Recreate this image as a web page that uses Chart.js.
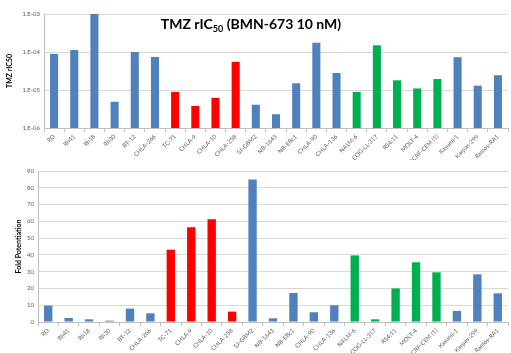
<!DOCTYPE html>
<html>
<head>
<meta charset="utf-8">
<script src="https://cdn.jsdelivr.net/npm/chart.js@4.4.0/dist/chart.umd.min.js"></script>
<style>
  html, body { margin: 0; padding: 0; background: #fff; }
  .box { position: absolute; left: 0; width: 511px; }
  #top { top: 0; height: 160px; }
  #bottom { top: 160px; height: 193px; }
</style>
</head>
<body>
<div class="box" id="top"><canvas id="ricChart"></canvas></div>
<div class="box" id="bottom"><canvas id="foldChart"></canvas></div>
<script>
const cellLines = ['RD', 'Rh41', 'Rh18', 'Rh30', 'BT-12', 'CHLA-266', 'TC-71', 'CHLA-9', 'CHLA-10', 'CHLA-258',
  'SJ-GBM2', 'NB-1643', 'NB-EBc1', 'CHLA-90', 'CHLA-136', 'NALM-6', 'COG-LL-317', 'RS4;11', 'MOLT-4',
  'CCRF-CEM (1)', 'Kasumi-1', 'Karpas-299', 'Ramos-RA1'];
const groups = ['solid', 'solid', 'solid', 'solid', 'solid', 'solid', 'ewing', 'ewing', 'ewing', 'ewing',
  'solid', 'solid', 'solid', 'solid', 'solid', 'all', 'all', 'all', 'all', 'all', 'solid', 'solid', 'solid'];
const ric50 = [8.9e-5, 1.13e-4, 1.0e-3, 4.9e-6, 1.0e-4, 7.4e-5, 8.9e-6, 3.8e-6, 6.2e-6, 5.5e-5,
  4.1e-6, 2.3e-6, 1.5e-5, 1.76e-4, 2.8e-5, 8.9e-6, 1.5e-4, 1.8e-5, 1.1e-5, 1.95e-5, 7.3e-5, 1.3e-5, 2.45e-5];
const foldPot = [9.8, 2.4, 1.6, 0.8, 8, 5.2, 43.1, 56.4, 61.2, 6.2,
  85, 2.2, 17.3, 5.8, 10, 39.7, 1.6, 20, 35.6, 29.6, 6.6, 28.4, 17.1];
const logTicks = [1e-6, 1e-5, 1e-4, 1e-3];
const logTickLabels = ['1.E-06', '1.E-05', '1.E-04', '1.E-03'];

const groupColors = { solid: '#4f81bd', ewing: '#ff0000', all: '#00b050' };
const barColors = groups.map(g => groupColors[g]);

const font = 'Lato, "Open Sans", sans-serif';
const gridColor = '#d9d9d9';
const tickColor = '#595959';

function xAxis(h) {
  return {
    ticks: { color: tickColor, font: { family: font, size: 6 }, minRotation: 45, maxRotation: 45, autoSkip: false, padding: 1 },
    grid: { drawOnChartArea: false, drawTicks: true, tickLength: 4, offset: true, color: '#bfbfbf' },
    border: { color: '#bfbfbf' },
    afterFit: s => { s.height = h; }
  };
}

// title with subscript, drawn inside the top chart
const titlePlugin = {
  id: 'ricTitle',
  afterDraw(chart) {
    const c = chart.ctx;
    const parts = [['TMZ rIC', 14, 0], ['50', 9, 3], [' (BMN-673 10 nM)', 14, 0]];
    c.save();
    c.fillStyle = '#000';
    c.textBaseline = 'alphabetic';
    let total = 0;
    parts.forEach(p => { c.font = 'bold ' + p[1] + 'px ' + font; total += c.measureText(p[0]).width; });
    let x = 251 - total / 2;
    parts.forEach(p => {
      c.font = 'bold ' + p[1] + 'px ' + font;
      c.fillText(p[0], x, 29 + p[2]);
      x += c.measureText(p[0]).width;
    });
    c.restore();
  }
};

new Chart(document.getElementById('ricChart'), {
  type: 'bar',
  data: {
    labels: cellLines,
    datasets: [{ data: ric50, backgroundColor: barColors, barPercentage: 0.4, categoryPercentage: 1 }]
  },
  options: {
    responsive: true,
    maintainAspectRatio: false,
    animation: false,
    layout: { padding: { top: 14, right: 3, left: 0, bottom: 0 } },
    plugins: { legend: { display: false }, tooltip: { enabled: false } },
    scales: {
      x: xAxis(32),
      y: {
        type: 'logarithmic',
        min: 1e-6,
        max: 1e-3,
        afterBuildTicks: s => { s.ticks = logTicks.map(v => ({ value: v })); },
        ticks: {
          color: tickColor, font: { family: font, size: 6 }, padding: 4,
          callback: v => logTickLabels[logTicks.findIndex(t => Math.abs(t - v) / t < 1e-6)] || ''
        },
        grid: { color: gridColor, drawTicks: false },
        border: { color: '#bfbfbf' },
        title: { display: true, text: 'TMZ rIC50', color: '#000', font: { family: font, size: 7, weight: 'bold' }, padding: { top: 6, bottom: 0 } },
        afterFit: s => { s.width = 44; }
      }
    }
  },
  plugins: [titlePlugin]
});

new Chart(document.getElementById('foldChart'), {
  type: 'bar',
  data: {
    labels: cellLines,
    datasets: [{ data: foldPot, backgroundColor: barColors, barPercentage: 0.41, categoryPercentage: 1 }]
  },
  options: {
    responsive: true,
    maintainAspectRatio: false,
    animation: false,
    layout: { padding: { top: 11, right: 3, left: 0, bottom: 0 } },
    plugins: { legend: { display: false }, tooltip: { enabled: false } },
    scales: {
      x: xAxis(31),
      y: {
        min: 0,
        max: 90,
        ticks: { stepSize: 10, color: tickColor, font: { family: font, size: 6 }, padding: 4 },
        grid: { color: gridColor, drawTicks: false },
        border: { color: '#bfbfbf' },
        title: { display: true, text: 'Fold Potentiation', color: '#000', font: { family: font, size: 7, weight: 'bold' }, padding: { top: 15, bottom: 0 } },
        afterFit: s => { s.width = 38; }
      }
    }
  }
});
</script>
</body>
</html>
